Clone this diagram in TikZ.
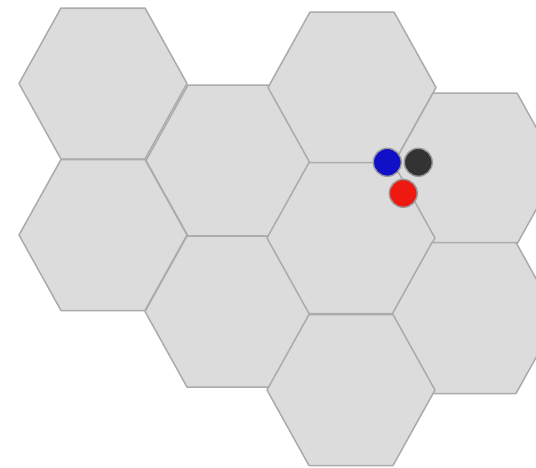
\documentclass[tikz,border=0pt]{standalone}
\definecolor{hexfill}{HTML}{DCDCDC}
\definecolor{hexline}{HTML}{ABABAB}
\definecolor{dotblue}{HTML}{1010C8}
\definecolor{dotdark}{HTML}{333333}
\definecolor{dotred}{HTML}{EE1A12}
\definecolor{dotline}{HTML}{9A9A9A}
\begin{document}
\begin{tikzpicture}[x=1pt,y=-1pt,
  hex/.style={fill=hexfill,draw=hexline,line width=1.5pt,line join=round},
  dot/.style={draw=dotline,line width=1.4pt}]
\useasboundingbox (0,0) rectangle (536,467);
\clip (0,0) rectangle (536,467);
\newcommand\myhex[2]{\draw[hex] (#1-84,#2) -- (#1-42,#2-75.5) -- (#1+42,#2-75.5) -- (#1+84,#2) -- (#1+42,#2+75.5) -- (#1-42,#2+75.5) -- cycle;}
\myhex{103}{83.5}
\myhex{103}{235}
\myhex{230}{160.5}
\myhex{229}{311.5}
\myhex{352}{87.5}
\myhex{475}{168.5}
\myhex{351}{238}
\myhex{474}{318}
\myhex{351}{390}
\draw[dot,fill=dotblue] (387.3,162.3) circle (14pt);
\draw[dot,fill=dotdark] (418.3,162.3) circle (14pt);
\draw[dot,fill=dotred] (403.3,193.3) circle (14pt);
\end{tikzpicture}
\end{document}
